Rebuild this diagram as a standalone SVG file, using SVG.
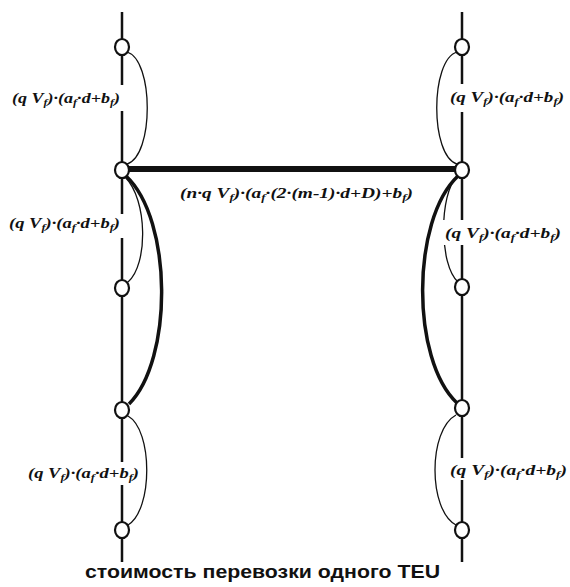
<svg xmlns="http://www.w3.org/2000/svg" width="570" height="587" viewBox="0 0 570 587">
<style>
.axis{stroke:#111;stroke-width:2.5;fill:none}
.thin{stroke:#111;stroke-width:1.3;fill:none}
.thick{stroke:#111;stroke-width:3.5;fill:none}
.bar{stroke:#111;stroke-width:6;fill:none}
.node{fill:#fff;stroke:#111;stroke-width:2.2}
.lbl{font-family:"Liberation Serif",serif;font-style:italic;font-weight:bold;font-size:15px;fill:#111}
.sub{font-size:10px}
.bg{fill:#fff}
.cap{font-family:"Liberation Sans",Arial,sans-serif;font-weight:bold;font-size:19px;fill:#111}
</style>
<rect width="570" height="587" fill="#fff"/>
<g id="connectors">
<line class="axis" x1="122" y1="12" x2="122" y2="562"/>
<line class="axis" x1="462" y1="12" x2="462" y2="562"/>
<line class="bar" x1="122" y1="169" x2="462" y2="169"/>
<path class="thin" d="M127,52 C154,60 154,156 127,164"/>
<path class="thin" d="M125,177 C148,200 148,265 128,282"/>
<path class="thick" d="M126,176 C173,220 173,360 129,404"/>
<path class="thin" d="M128,416 C153,430 153,510 128,525"/>
<path class="thin" d="M457,52 C430,60 430,156 457,164"/>
<path class="thin" d="M457,176 C439,195 439,265 458,282"/>
<path class="thick" d="M458,176 C411,220 411,360 457,403"/>
<path class="thin" d="M456,415 C428,430 428,510 456,525"/>
</g>
<g id="labels">
<rect class="bg" x="10" y="85" width="114" height="26"/>
<text class="lbl" x="12" y="103" textLength="108" lengthAdjust="spacingAndGlyphs">(q V<tspan class="sub" dy="3">f</tspan><tspan dy="-3">)·(a</tspan><tspan class="sub" dy="3">f</tspan><tspan dy="-3">·d+b</tspan><tspan class="sub" dy="3">f</tspan><tspan dy="-3">)</tspan></text>
<rect class="bg" x="6" y="214" width="118" height="24"/>
<text class="lbl" x="9" y="228" textLength="111" lengthAdjust="spacingAndGlyphs">(q V<tspan class="sub" dy="3">f</tspan><tspan dy="-3">)·(a</tspan><tspan class="sub" dy="3">f</tspan><tspan dy="-3">·d+b</tspan><tspan class="sub" dy="3">f</tspan><tspan dy="-3">)</tspan></text>
<rect class="bg" x="26" y="462" width="116" height="23"/>
<text class="lbl" x="28" y="478" textLength="111" lengthAdjust="spacingAndGlyphs">(q V<tspan class="sub" dy="3">f</tspan><tspan dy="-3">)·(a</tspan><tspan class="sub" dy="3">f</tspan><tspan dy="-3">·d+b</tspan><tspan class="sub" dy="3">f</tspan><tspan dy="-3">)</tspan></text>
<rect class="bg" x="447" y="84" width="120" height="28"/>
<text class="lbl" x="450" y="102" textLength="114" lengthAdjust="spacingAndGlyphs">(q V<tspan class="sub" dy="3">f</tspan><tspan dy="-3">)·(a</tspan><tspan class="sub" dy="3">f</tspan><tspan dy="-3">·d+b</tspan><tspan class="sub" dy="3">f</tspan><tspan dy="-3">)</tspan></text>
<rect class="bg" x="442" y="220" width="124" height="25"/>
<text class="lbl" x="445" y="238" textLength="116" lengthAdjust="spacingAndGlyphs">(q V<tspan class="sub" dy="3">f</tspan><tspan dy="-3">)·(a</tspan><tspan class="sub" dy="3">f</tspan><tspan dy="-3">·d+b</tspan><tspan class="sub" dy="3">f</tspan><tspan dy="-3">)</tspan></text>
<rect class="bg" x="447" y="458" width="122" height="22"/>
<text class="lbl" x="450" y="475" textLength="117" lengthAdjust="spacingAndGlyphs">(q V<tspan class="sub" dy="3">f</tspan><tspan dy="-3">)·(a</tspan><tspan class="sub" dy="3">f</tspan><tspan dy="-3">·d+b</tspan><tspan class="sub" dy="3">f</tspan><tspan dy="-3">)</tspan></text>
<text class="lbl" x="180" y="198" textLength="233" lengthAdjust="spacingAndGlyphs">(n·q V<tspan class="sub" dy="3">f</tspan><tspan dy="-3">)·(a</tspan><tspan class="sub" dy="3">f</tspan><tspan dy="-3">·(2·(m-1)·d+D)+b</tspan><tspan class="sub" dy="3">f</tspan><tspan dy="-3">)</tspan></text>
</g>
<g id="node-L1"><ellipse class="node" cx="122" cy="47" rx="7" ry="8"/></g>
<g id="node-L2"><ellipse class="node" cx="122" cy="170" rx="7" ry="8"/></g>
<g id="node-L3"><ellipse class="node" cx="122" cy="288" rx="7" ry="8"/></g>
<g id="node-L4"><ellipse class="node" cx="122" cy="410" rx="7" ry="8"/></g>
<g id="node-L5"><ellipse class="node" cx="122" cy="530" rx="7" ry="8"/></g>
<g id="node-R1"><ellipse class="node" cx="462" cy="47" rx="7" ry="8"/></g>
<g id="node-R2"><ellipse class="node" cx="462" cy="170" rx="7" ry="8"/></g>
<g id="node-R3"><ellipse class="node" cx="462" cy="287" rx="7" ry="8"/></g>
<g id="node-R4"><ellipse class="node" cx="462" cy="408" rx="7" ry="8"/></g>
<g id="node-R5"><ellipse class="node" cx="462" cy="530" rx="7" ry="8"/></g>
<text class="cap" x="85" y="578" textLength="355" lengthAdjust="spacingAndGlyphs">стоимость перевозки одного TEU</text>
</svg>
